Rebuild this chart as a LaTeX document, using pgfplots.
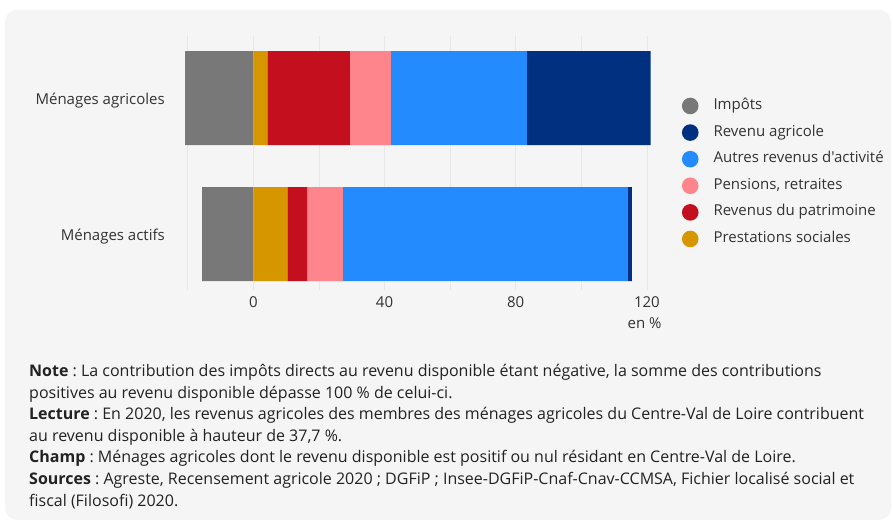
\documentclass[border=0pt]{standalone}
\usepackage{pgfplots}
\pgfplotsset{compat=1.18}
\usepackage{fontspec}
\setmainfont{Open Sans}[Ligatures=TeXOff]
\frenchspacing
\definecolor{impcol}{RGB}{120,120,120}
\definecolor{agricol}{RGB}{2,48,128}
\definecolor{autrecol}{RGB}{36,139,255}
\definecolor{pencol}{RGB}{255,133,140}
\definecolor{patcol}{RGB}{196,16,30}
\definecolor{prestcol}{RGB}{214,150,0}
\definecolor{cardcol}{RGB}{245,245,245}
\definecolor{gridcol}{RGB}{232,232,232}
\definecolor{txtcol}{RGB}{34,34,34}
\definecolor{lblcol}{RGB}{51,51,51}
\pgfplotsset{
  common/.style={
    at={(182.8bp,239bp)}, anchor=south west,
    width=470.7bp, height=254bp, scale only axis,
    xmin=-21.5, xmax=122, ymin=-0.41, ymax=1.456,
  }
}
\begin{document}
\frenchspacing
\begin{tikzpicture}[x=1bp,y=1bp]
\fill[white] (0,0) rectangle (893,529);
\fill[cardcol, rounded corners=12bp] (5,9) rectangle (891,519);
\begin{axis}[
  common,
  axis line style={draw=none},
  major tick length=0pt, minor tick length=0pt,
  xtick={0,40,80,120}, minor xtick={-20,20,60,100},
  xmajorgrids, xminorgrids,
  major grid style={gridcol, line width=0.8bp},
  minor grid style={gridcol, line width=0.8bp},
  ytick={0,1}, yticklabels={Ménages actifs,Ménages agricoles},
  /pgf/number format/assume math mode=true,
  xticklabel style={font=\fontsize{15bp}{17bp}\selectfont, text=lblcol, anchor=center, inner sep=0pt, yshift=-12bp},
  yticklabel style={font=\fontsize{15bp}{17bp}\selectfont, text=lblcol, anchor=east, inner sep=0pt, xshift=-17.8bp, yshift=-2bp},
  legend image code/.code={\fill[#1, draw=none] (0bp,0bp) circle (8.3bp);},
  legend style={draw=none, fill=none, inner sep=0pt, row sep=10bp, column sep=0bp,
    at={(1.06,0.758)}, anchor=north west,
    nodes={inner sep=0pt, font=\fontsize{15bp}{17bp}\selectfont, text=lblcol, text height=10bp, text depth=3bp}},
  legend cell align=left,
  /tikz/every odd column/.append style={column sep=15bp},
]
\addplot[xbar, bar width=94bp, fill=impcol, draw=none, forget plot] coordinates {(-20.8,1) (-15.6,0)};
\addlegendimage{fill=impcol}\addlegendentry{Impôts}
\addlegendimage{fill=agricol}\addlegendentry{Revenu agricole}
\addlegendimage{fill=autrecol}\addlegendentry{Autres revenus d'activité}
\addlegendimage{fill=pencol}\addlegendentry{Pensions, retraites}
\addlegendimage{fill=patcol}\addlegendentry{Revenus du patrimoine}
\addlegendimage{fill=prestcol}\addlegendentry{Prestations sociales}
\end{axis}
\begin{axis}[
  common, hide axis,
  xbar stacked, bar width=94bp,
]
\addplot[fill=prestcol, draw=none] coordinates {(4.3,1) (10.4,0)};
\addplot[fill=patcol, draw=none] coordinates {(25.1,1) (6.1,0)};
\addplot[fill=pencol, draw=none] coordinates {(12.5,1) (10.8,0)};
\addplot[fill=autrecol, draw=none] coordinates {(41.5,1) (86.9,0)};
\addplot[fill=agricol, draw=none] coordinates {(37.7,1) (1.2,0)};
\end{axis}
\node[anchor=east, inner sep=0pt, font=\fontsize{15bp}{17bp}\selectfont, text=lblcol] at (661.7,206) {en~\%};
\node[anchor=north west, inner sep=0pt, align=left, text=txtcol, font=\fontsize{16bp}{21.6bp}\selectfont\frenchspacing] at (29,529-364) {%
\textbf{Note} : La contribution des impôts directs au revenu disponible étant négative, la somme des contributions\\
positives au revenu disponible dépasse 100~\% de celui-ci.\\
\textbf{Lecture} : En 2020, les revenus agricoles des membres des ménages agricoles du Centre-Val de Loire contribuent\\
au revenu disponible à hauteur de 37,7~\%.\\
\textbf{Champ} : Ménages agricoles dont le revenu disponible est positif ou nul résidant en Centre-Val de Loire.\\
\textbf{Sources} : Agreste, Recensement agricole 2020 ; DGFiP ; Insee-DGFiP-Cnaf-Cnav-CCMSA, Fichier localisé social et\\
fiscal (Filosofi) 2020.};
\end{tikzpicture}
\end{document}
